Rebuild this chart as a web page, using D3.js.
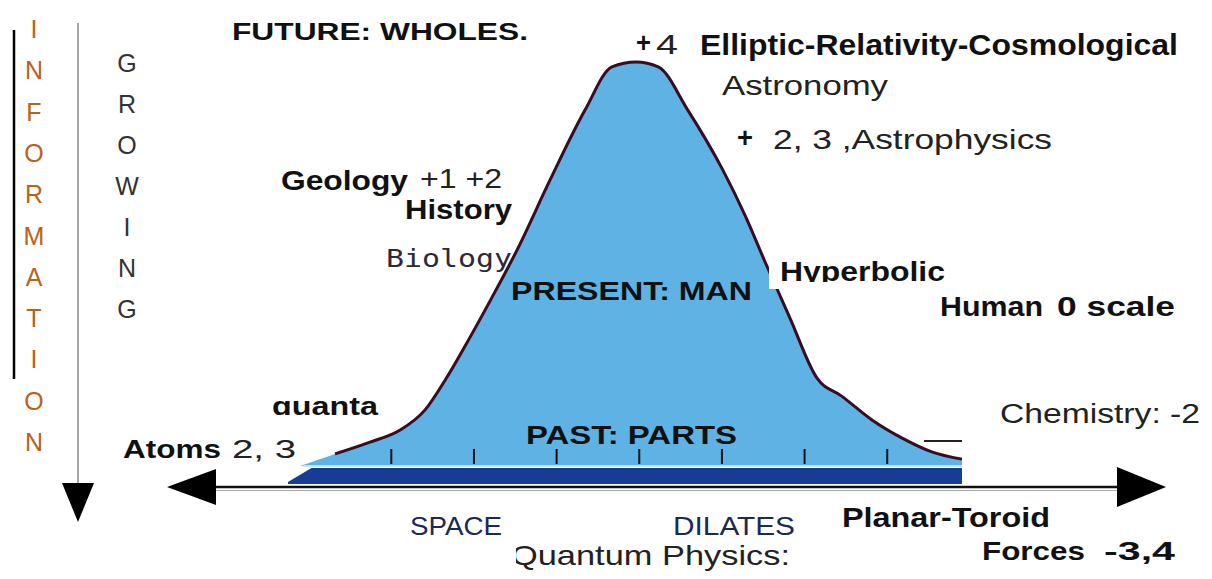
<!DOCTYPE html>
<meta charset="utf-8">
<style>
  body {margin: 0; background: #fff;}
  svg {display: block; font-family: "Liberation Sans", Arial, sans-serif;}
</style>
<svg width="1212" height="579"></svg>
<script src="https://cdn.jsdelivr.net/npm/d3@7"></script>
<script>
  /**
   * ----------------------------------------------------------------------------------------------
   * data : position along the scale axis (0-100) and information level (0-100)
   * ----------------------------------------------------------------------------------------------
   */
  const curvePos  = [1.5, 6.7, 11.9, 16.4, 20.1, 23.1, 26.8, 30.5, 33.8, 38.7, 43.9, 47.9, 51.5,
                     54.8, 59.2, 64.4, 67.7, 70.7, 74.4, 78.4, 82.1, 86.6, 91.1, 95.5, 100];
  const curveInfo = [0, 3.0, 5.9, 8.9, 13.9, 21.3, 31.9, 43.1, 53.5, 70.8, 88.1, 98.8, 100,
                     98.8, 88.1, 73.3, 62.1, 50.5, 36.6, 21.8, 17.3, 11.4, 6.9, 3.5, 1.7];
  const tickPos   = [15, 27.3, 39.6, 51.9, 64.2, 76.5, 88.8];
  const infoLetters  = "INFORMATION".split("");
  const growLetters  = "GROWING".split("");

  /**
   *-----------------------------------------------------------------------------------------------
   * definitions
   *-----------------------------------------------------------------------------------------------
   **/
  var svg = d3.select("svg");
  var x = d3.scaleLinear().domain([0, 100]).range([290, 962]);
  var y = d3.scaleLinear().domain([0, 100]).range([466, 62]);
  var points = curvePos.map(function(p, i) { return {p: p, v: curveInfo[i]}; });

  /**------------------------------------------------------------------------
   * bell fill
   **----------------------------------------------------------------------**/
  var area = d3.area()
    .x(function(d) { return x(d.p); })
    .y0(y(0))
    .y1(function(d) { return y(d.v); })
    .curve(d3.curveMonotoneX);
  svg.append("path").datum(points)
    .attr("d", area)
    .attr("fill", "#5fb2e4");

  var line = d3.line()
    .x(function(d) { return x(d.p); })
    .y(function(d) { return y(d.v); })
    .curve(d3.curveMonotoneX);
  svg.append("path").datum(points.slice(1))
    .attr("d", line)
    .attr("fill", "none")
    .attr("stroke", "#3a0c20")
    .attr("stroke-width", 3);

  // thin pale line + dark band under the bell
  svg.append("rect")
    .attr("x", x(2)).attr("y", y(0) - 1)
    .attr("width", x(100) - x(2)).attr("height", 2)
    .attr("fill", "#bfe6f6");
  svg.append("path")
    .attr("d", d3.line()([[x(-0.3), 482], [x(3.2), 468], [x(100), 468], [x(100), 484], [x(-0.3), 484]]))
    .attr("fill", "#163c93");

  /**------------------------------------------------------------------------
   * ticks
   **----------------------------------------------------------------------**/
  var axis = d3.axisTop(x).tickValues(tickPos).tickSize(15).tickFormat("");
  var gAxis = svg.append("g")
    .attr("transform", "translate(0," + (y(0) - 2) + ")")
    .call(axis);
  gAxis.select(".domain").remove();
  gAxis.selectAll("line").attr("stroke", "#111").attr("stroke-width", 2);

  // little dash near the right end
  svg.append("line")
    .attr("x1", 924).attr("x2", 962).attr("y1", 441).attr("y2", 441)
    .attr("stroke", "#222").attr("stroke-width", 2);

  /**------------------------------------------------------------------------
   * horizontal double arrow
   **----------------------------------------------------------------------**/
  svg.append("line")
    .attr("x1", 210).attr("x2", 1122).attr("y1", 487).attr("y2", 487)
    .attr("stroke", "#111").attr("stroke-width", 2.5);
  svg.append("line")
    .attr("x1", 210).attr("x2", 1122).attr("y1", 490.5).attr("y2", 490.5)
    .attr("stroke", "#aaa").attr("stroke-width", 1);
  svg.append("path")
    .attr("d", d3.line()([[167, 487], [216, 469], [216, 505]]))
    .attr("fill", "#000");
  svg.append("path")
    .attr("d", d3.line()([[1166, 487], [1117, 467], [1117, 507]]))
    .attr("fill", "#000");

  /**------------------------------------------------------------------------
   * vertical marks on the left
   **----------------------------------------------------------------------**/
  svg.append("line")
    .attr("x1", 14).attr("x2", 14).attr("y1", 30).attr("y2", 379)
    .attr("stroke", "#000").attr("stroke-width", 2.5);
  svg.append("line")
    .attr("x1", 78).attr("x2", 78).attr("y1", 23).attr("y2", 484)
    .attr("stroke", "#888").attr("stroke-width", 1.5);
  svg.append("path")
    .attr("d", d3.line()([[62, 483], [94, 483], [78, 522]]))
    .attr("fill", "#000");

  svg.append("g").selectAll("text")
    .data(infoLetters).enter().append("text")
      .attr("x", 34)
      .attr("y", function(d, i) { return 38 + i * 41.3; })
      .attr("text-anchor", "middle")
      .attr("font-size", 25)
      .attr("fill", "#b8621c")
      .text(function(d) { return d; });

  svg.append("g").selectAll("text")
    .data(growLetters).enter().append("text")
      .attr("x", 127)
      .attr("y", function(d, i) { return 72 + i * 41; })
      .attr("text-anchor", "middle")
      .attr("font-size", 25)
      .attr("fill", "#333")
      .text(function(d) { return d; });

  /**------------------------------------------------------------------------
   * annotations
   **----------------------------------------------------------------------**/
  // white box behind "Hyperbolic" cutting the curve edge
  svg.append("rect")
    .attr("x", 769).attr("y", 259).attr("width", 180).attr("height", 30)
    .attr("fill", "#fff");

  var defs = svg.append("defs");
  defs.append("clipPath").attr("id", "cutHyp")
    .append("rect").attr("x", 760).attr("y", 240).attr("width", 220).attr("height", 42);
  defs.append("clipPath").attr("id", "cutQuanta")
    .append("rect").attr("x", 260).attr("y", 380).attr("width", 140).attr("height", 35);
  defs.append("clipPath").attr("id", "cutQuantum")
    .append("rect").attr("x", 516).attr("y", 530).attr("width", 300).attr("height", 49);

  var labels = [
    {t: "FUTURE: WHOLES.", x: 232, y: 40, s: 23, w: 296, b: true},
    {t: "+", x: 636, y: 52, s: 27, w: 15, b: true},
    {t: "4", x: 656, y: 54, s: 27, w: 22, b: false, c: "#222"},
    {t: "Elliptic-Relativity-Cosmological", x: 700, y: 55, s: 29, w: 478, b: true},
    {t: "Astronomy", x: 722, y: 95, s: 28, w: 166, b: false, c: "#222"},
    {t: "+", x: 737, y: 147, s: 28, w: 16, b: true},
    {t: "2, 3 ,Astrophysics", x: 773, y: 149, s: 28, w: 279, b: false, c: "#222"},
    {t: "Geology", x: 281, y: 190, s: 27, w: 127, b: true},
    {t: "+1 +2", x: 420, y: 188, s: 27, w: 82, b: false, c: "#222"},
    {t: "History", x: 405, y: 219, s: 27, w: 107, b: true},
    {t: "Biology", x: 386, y: 267, s: 25, w: 126, b: false, c: "#2a2a3a", f: "DejaVu Sans Mono"},
    {t: "PRESENT: MAN", x: 511, y: 300, s: 26, w: 241, b: true},
    {t: "Hyperbolic", x: 780, y: 281, s: 27, w: 165, b: true, clip: "cutHyp"},
    {t: "Human", x: 940, y: 316, s: 27, w: 103, b: true},
    {t: "0 scale", x: 1057, y: 316, s: 27, w: 118, b: true},
    {t: "quanta", x: 272, y: 415, s: 26, w: 106, b: true, clip: "cutQuanta"},
    {t: "Chemistry: -2", x: 1000, y: 423, s: 27, w: 200, b: false, c: "#222"},
    {t: "Atoms", x: 123, y: 458, s: 26, w: 98, b: true},
    {t: "2, 3", x: 232, y: 458, s: 26, w: 64, b: false, c: "#222"},
    {t: "PAST: PARTS", x: 526, y: 444, s: 26, w: 211, b: true},
    {t: "SPACE", x: 410, y: 535, s: 26, w: 92, b: false, c: "#1c2a52"},
    {t: "DILATES", x: 673, y: 535, s: 26, w: 122, b: false, c: "#1c2a52"},
    {t: "Planar-Toroid", x: 842, y: 527, s: 28, w: 208, b: true},
    {t: "Quantum Physics:", x: 511, y: 565, s: 28, w: 279, b: false, c: "#222", clip: "cutQuantum"},
    {t: "Forces", x: 982, y: 560, s: 26, w: 103, b: true},
    {t: "-3,4", x: 1104, y: 560, s: 26, w: 71, b: true}
  ];

  svg.append("g").selectAll("text")
    .data(labels).enter().append("text")
      .attr("x", function(d) { return d.x; })
      .attr("y", function(d) { return d.y; })
      .attr("font-size", function(d) { return d.s; })
      .attr("font-weight", function(d) { return d.b ? "bold" : "normal"; })
      .attr("font-family", function(d) { return d.f || null; })
      .attr("fill", function(d) { return d.c || "#111"; })
      .attr("textLength", function(d) { return d.w; })
      .attr("lengthAdjust", "spacingAndGlyphs")
      .attr("clip-path", function(d) { return d.clip ? "url(#" + d.clip + ")" : null; })
      .text(function(d) { return d.t; });
</script>
